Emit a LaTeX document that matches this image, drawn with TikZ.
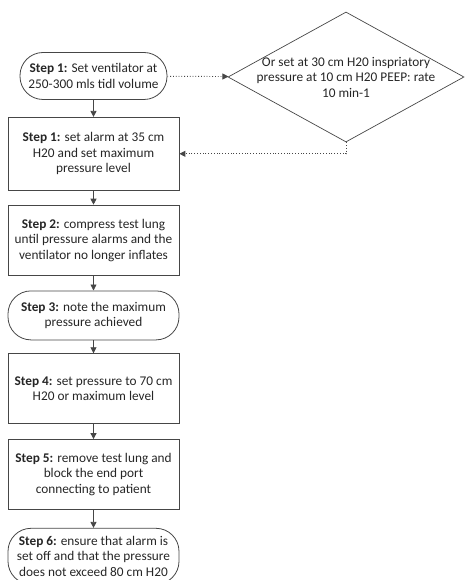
\documentclass[tikz,border=0pt]{standalone}
\usepackage{fontspec}
\setmainfont{Carlito}
\usepackage{xcolor}
\usepackage{tikz}
\usetikzlibrary{arrows.meta,positioning,shapes.geometric}
\definecolor{edgegray}{RGB}{70,70,70}

\begin{document}
\begin{tikzpicture}[
  x=1pt,y=-1pt,
  node distance=15pt,
  every node/.style={font=\fontsize{13.3}{15.5}\selectfont,text=black!85},
  box/.style={draw=edgegray,line width=0.8pt,align=center,
    minimum width=171pt,minimum height=70pt,inner sep=1pt},
  oval/.style={box,rounded corners=23pt,minimum height=48pt},
  decision/.style={diamond,draw=edgegray,line width=0.7pt,
    minimum width=236pt,minimum height=130pt,inner sep=0pt},
  arrow/.style={-{Triangle[length=6pt,width=6pt]},line width=0.8pt,edgegray},
  dotarrow/.style={arrow,dotted,line width=0.9pt}
]
\useasboundingbox (0,0) rectangle (464,580);
\node[oval,minimum width=147pt,minimum height=47pt] (start) at (93.5,76)
  {\textbf{Step 1:} Set ventilator at\\250-300 mls tidl volume};
\node[box,below=17pt of start,minimum height=73pt] (alarm)
  {\textbf{Step 1:} set alarm at 35 cm\\H20 and set maximum\\pressure level};
\node[box,below=14pt of alarm] (compress)
  {\textbf{Step 2:} compress test lung\\until pressure alarms and the\\ventilator no longer inflates};
\node[oval,below=of compress,minimum height=49pt] (note)
  {\textbf{Step 3:} note the maximum\\pressure achieved};
\node[box,below=13pt of note] (setp)
  {\textbf{Step 4:} set pressure to 70 cm\\H20 or maximum level};
\node[box,below=of setp] (block)
  {\textbf{Step 5:} remove test lung and\\block the end port\\connecting to patient};
\node[oval,below=18pt of block,minimum height=56pt] (ensure)
  {\textbf{Step 6:} ensure that alarm is\\set off and that the pressure\\does not exceed 80 cm H20};
\node[decision,label={[align=center]center:Or set at 30 cm H20 inspriatory\\pressure at 10 cm H20 PEEP: rate\\10 min-1}] (alt) at (346,77) {};
\draw[arrow] (start)--(alarm);
\draw[arrow] (alarm)--(compress);
\draw[arrow] (compress)--(note);
\draw[arrow] (note)--(setp);
\draw[arrow] (setp)--(block);
\draw[arrow] (block)--(ensure);
\draw[dotarrow] (start)--(alt);
\draw[dotarrow] (alt.south) |- (alarm.east);
\end{tikzpicture}
\end{document}
